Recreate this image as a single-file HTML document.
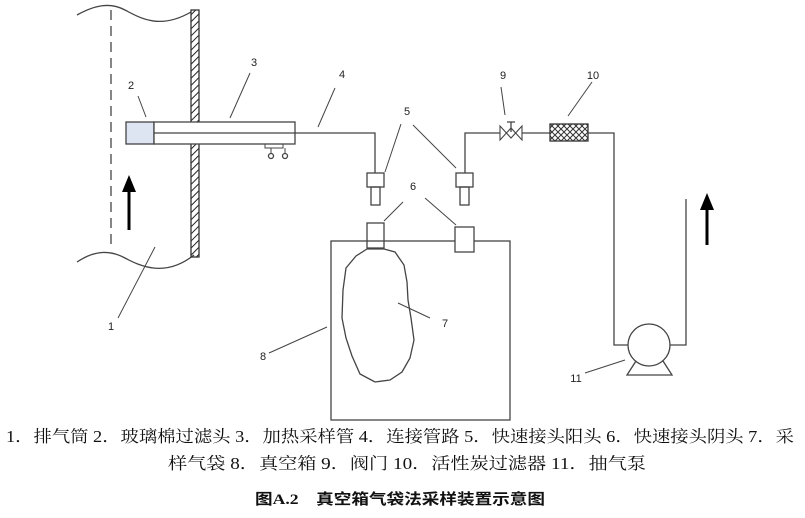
<!DOCTYPE html>
<html><head><meta charset="utf-8"><style>html,body{margin:0;padding:0;background:#fff}svg{display:block}</style></head>
<body>
<svg width="805" height="518" viewBox="0 0 805 518" xmlns="http://www.w3.org/2000/svg">
<defs>
<pattern id="h" width="5" height="5" patternUnits="userSpaceOnUse" patternTransform="rotate(45)"><line x1="0" y1="0" x2="0" y2="5" stroke="#222" stroke-width="2"/></pattern>
<pattern id="x" width="6" height="6" patternUnits="userSpaceOnUse"><path d="M0 0L6 6M6 0L0 6" stroke="#333" stroke-width="1"/></pattern>
</defs>
<g fill="none" stroke="#444" stroke-width="1.3">
<path d="M77 15 C95 5 110 2 125 10 S160 30 191 12"/>
<path d="M77 262 C95 250 110 250 125 258 S165 278 194 255"/>
<line x1="111" y1="10" x2="111" y2="250" stroke-dasharray="10,6"/>
<rect x="191" y="10" width="8" height="247" fill="url(#h)" stroke="#333"/>
<rect x="126" y="122" width="28" height="22" fill="#dde4f2"/>
<rect x="154" y="122" width="141" height="22" fill="#fff"/>
<line x1="154" y1="133" x2="295" y2="133"/>
<path d="M265 144v4h18v-4M271 148v5M285 148v5" stroke-width="1"/>
<circle cx="271" cy="156" r="2.5"/><circle cx="285" cy="156" r="2.5"/>
<path d="M295 133H375V173"/>
<rect x="367" y="173" width="17" height="14"/><rect x="371" y="187" width="9" height="18"/>
<rect x="367" y="223" width="17" height="25"/>
<rect x="331" y="241" width="179" height="179"/>
<path d="M367 249 L356 256 L346 268 L343 290 L342 318 L346 338 L352 356 L360 374 L375 382 L390 380 L402 372 L410 358 L414 340 L411 318 L408 300 L407 282 L404 265 L395 252 L384 249 Z"/>
<rect x="455" y="227" width="19" height="25" fill="#fff"/>
<rect x="456" y="173" width="17" height="14"/><rect x="460" y="187" width="9" height="18"/>
<path d="M465 173V133H500"/>
<path d="M500 126L511 138L522 126V140L511 128L500 140Z" stroke-width="1.1" fill="#fff"/>
<path d="M511 132V122M507 122H515"/>
<path d="M522 133H550"/>
<rect x="550" y="124" width="38" height="17" fill="url(#x)" stroke="#333"/>
<path d="M588 133H614V345H628"/>
<circle cx="649" cy="345" r="21" fill="#fff"/>
<path d="M670 345H686V199"/>
<path d="M636 361L627 375H672L663 361"/>
<line x1="138" y1="96" x2="146" y2="117" stroke-width="1"/>
<line x1="250" y1="73" x2="230" y2="118" stroke-width="1"/>
<line x1="335" y1="88" x2="318" y2="127" stroke-width="1"/>
<line x1="401" y1="124" x2="385" y2="172" stroke-width="1"/>
<line x1="413" y1="125" x2="456" y2="168" stroke-width="1"/>
<line x1="403" y1="202" x2="384" y2="221" stroke-width="1"/>
<line x1="425" y1="198" x2="456" y2="225" stroke-width="1"/>
<line x1="501" y1="87" x2="505" y2="115" stroke-width="1"/>
<line x1="592" y1="82" x2="568" y2="116" stroke-width="1"/>
<line x1="398" y1="303" x2="430" y2="318" stroke-width="1"/>
<line x1="269" y1="353" x2="327" y2="327" stroke-width="1"/>
<line x1="585" y1="373" x2="625" y2="360" stroke-width="1"/>
<line x1="155" y1="247" x2="118" y2="318" stroke-width="1"/>
</g>
<line x1="129" y1="230" x2="129" y2="190" stroke="#000" stroke-width="3"/>
<path d="M122 192L129 175L136 192Z" fill="#000"/>
<line x1="707" y1="245" x2="707" y2="208" stroke="#000" stroke-width="3"/>
<path d="M700 210L707 193L714 210Z" fill="#000"/>
<g font-family="Liberation Sans, sans-serif" font-size="11" fill="#222" text-anchor="middle">
<text x="131" y="89">2</text><text x="254" y="66">3</text><text x="342" y="78">4</text>
<text x="407" y="115">5</text><text x="413" y="190">6</text><text x="503" y="79">9</text>
<text x="593" y="79">10</text><text x="445" y="327">7</text><text x="263" y="360">8</text>
<text x="576" y="382">11</text><text x="111" y="330">1</text>
</g>
<g font-family="Liberation Serif, 'Noto Serif CJK SC', serif" font-size="16.5" fill="#111">
<text x="6" y="442" textLength="788" lengthAdjust="spacingAndGlyphs">1．排气筒 2．玻璃棉过滤头 3．加热采样管 4．连接管路 5．快速接头阳头 6．快速接头阴头 7．采</text>
<text x="168" y="469" textLength="478" lengthAdjust="spacingAndGlyphs">样气袋 8．真空箱 9．阀门 10．活性炭过滤器 11．抽气泵</text>
<text x="255" y="504" font-size="15" font-weight="bold" font-family="Liberation Serif, 'Noto Sans CJK SC', serif" textLength="290" lengthAdjust="spacingAndGlyphs">图A.2　真空箱气袋法采样装置示意图</text>
</g>
</svg>
</body></html>
